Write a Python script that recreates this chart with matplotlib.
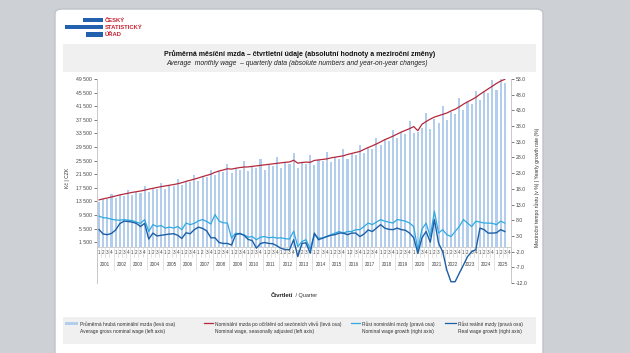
import numpy as np
import matplotlib.pyplot as plt
from matplotlib.patches import Rectangle, FancyBboxPatch
from matplotlib.lines import Line2D
from matplotlib.transforms import blended_transform_factory

plt.rcParams['font.family'] = ['Liberation Sans', 'DejaVu Sans']

# ---- data (2001 Q1 .. 2025 Q3) ----
years = list(range(2001, 2026))
quarters = ['1', '2', '3', '4']

wage = [13440, 14310, 14090, 15670,
        14510, 15450, 15210, 16920,
        15360, 16350, 16100, 17910,
        16330, 17380, 17120, 19040,
        17150, 18250, 17980, 19990,
        18280, 19450, 19160, 21300,
        19590, 20850, 20540, 22840,
        21120, 22480, 22140, 24630,
        21830, 23230, 22880, 25440,
        22310, 23740, 23390, 26010,
        22870, 24330, 23970, 26660,
        23440, 24940, 24570, 27600,
        23450, 24910, 24530, 27160,
        24220, 25640, 25250, 27960,
        25000, 26460, 26060, 28850,
        26100, 27630, 27210, 30120,
        27860, 29490, 29050, 32160,
        29970, 31720, 31250, 34600,
        32060, 33940, 33430, 37010,
        33660, 33940, 35100, 39640,
        34670, 37640, 36470, 41620,
        37300, 39900, 39300, 43900,
        40350, 42650, 42100, 46000,
        43340, 45850, 45300, 49230,
        46200, 49400, 48300]

wage_sa = [13950, 14250, 14500, 14800,
           15100, 15400, 15650, 15900,
           16150, 16350, 16550, 16800,
           17100, 17350, 17600, 17850,
           18050, 18250, 18450, 18700,
           19000, 19400, 19700, 20050,
           20400, 20800, 21150, 21500,
           22050, 22450, 22750, 23100,
           23000, 23250, 23450, 23600,
           23650, 23800, 23950, 24100,
           24250, 24400, 24550, 24700,
           24850, 25000, 25100, 25600,
           24750, 24950, 25050, 25000,
           25550, 25700, 25850, 26000,
           26300, 26500, 26700, 26900,
           27300, 27600, 27900, 28200,
           28800, 29350, 29850, 30400,
           31000, 31650, 32150, 32700,
           33300, 33900, 34400, 34900,
           35500, 34300, 36200, 37000,
           37700, 38300, 38700, 39100,
           39500, 40100, 40600, 41300,
           42100, 42800, 43400, 44100,
           45000, 45800, 46600, 47400,
           48200, 48900, 49400]

nominal_growth = [9.3, 8.8, 8.7, 8.3,
                  8.1, 8.0, 8.2, 8.0,
                  7.9, 7.4, 7.0, 8.2,
                  4.4, 6.6, 6.0, 6.3,
                  5.5, 5.8, 5.5, 6.0,
                  5.0, 7.1, 6.6, 7.0,
                  7.8, 8.2, 7.6, 6.8,
                  9.8, 7.7, 7.2, 7.1,
                  2.3, 3.9, 3.6, 3.4,
                  2.6, 2.8, 1.8, 2.6,
                  2.8, 2.4, 2.6, 2.3,
                  2.4, 2.1, 2.0, 4.5,
                  -0.4, 1.2, 1.8, -1.2,
                  3.4, 2.3, 2.3, 2.8,
                  3.4, 3.9, 4.4, 3.9,
                  4.4, 4.4, 5.0, 5.0,
                  6.0, 7.1, 6.6, 7.4,
                  8.2, 7.7, 7.4, 7.1,
                  8.2, 8.0, 7.7, 7.1,
                  6.0, -1.4, 5.2, 7.1,
                  2.8, 10.9, 3.9, 5.0,
                  3.4, 2.8, 4.4, 6.0,
                  8.2, 7.1, 6.0, 7.7,
                  7.4, 7.1, 7.1, 7.0,
                  6.6, 7.7, 7.1]

real_growth = [5.0, 3.6, 3.4, 3.8,
               4.9, 6.9, 7.7, 7.6,
               7.4, 7.0, 6.0, 7.0,
               2.0, 3.9, 3.0, 3.2,
               3.4, 3.6, 3.7, 3.2,
               2.2, 4.0, 3.7, 5.0,
               5.8, 5.4, 4.6, 2.4,
               2.4, 0.9, 0.6, 0.6,
               0.1, 3.4, 3.8, 3.2,
               1.9, 1.5, -0.9, 0.6,
               0.9, 0.6, 0.5, -0.2,
               -1.0, -1.3, -1.4, 1.8,
               -3.6, 0.6, 0.8, -2.5,
               3.9, 1.8, 2.3, 2.8,
               3.2, 3.4, 3.9, 3.9,
               3.4, 3.9, 3.9, 2.8,
               3.6, 4.9, 4.4, 5.5,
               6.6, 5.5, 5.1, 5.0,
               5.5, 5.0, 4.8, 3.9,
               2.4, -2.5, 2.4, 4.4,
               1.0, 8.2, 0.7, -2.0,
               -7.9, -11.6, -11.6, -8.9,
               -6.3, -3.6, -2.0, -1.4,
               5.5, 5.0, 3.9, 3.9,
               4.0, 5.0, 4.4]

left_ticks = list(range(1500, 49501, 4000))
right_ticks = list(range(-12, 54, 5))

# ---- figure / page decoration ----
W, H = 630, 353
fig = plt.figure(figsize=(W / 100, H / 100), dpi=100)
fig.patch.set_facecolor('#cdd0d5')

def fx(x):
    return x / W

def fy(y):
    return 1 - y / H

# white panel (kept behind the axes)
fig.add_artist(FancyBboxPatch((fx(55), fy(362)), fx(543 - 55), (362 - 9) / H,
                              boxstyle='round,pad=0,rounding_size=0.012',
                              transform=fig.transFigure, fc='white', ec='#bfc2c6', lw=1.0,
                              zorder=-10))

# logo
logo_blue = '#2161ad'
for x0, x1, y0, y1 in [(83, 103, 18, 22), (65, 103, 25, 29), (86, 103, 32, 36.5)]:
    fig.add_artist(Rectangle((fx(x0), fy(y1)), fx(x1 - x0), (y1 - y0) / H,
                             transform=fig.transFigure, fc=logo_blue, ec='none', zorder=-5))
for txt, yy in [('ČESKÝ', 20.3), ('STATISTICKÝ', 27.3), ('ÚŘAD', 34.5)]:
    fig.text(fx(105), fy(yy), txt, color='#c8202f', fontsize=4.2, fontweight='bold',
             ha='left', va='center')

# title box
fig.add_artist(Rectangle((fx(63), fy(72)), fx(536 - 63), (72 - 44) / H,
                         transform=fig.transFigure, fc='#f0f0f0', ec='none', zorder=-5))
fig.text(fx(300), fy(54.5),
         'Průměrná měsíční mzda – čtvrtletní údaje (absolutní hodnoty a meziroční změny)',
         fontsize=5.0, fontweight='bold', ha='center', va='center', color='#111111')
fig.text(fx(297), fy(63.5),
         'Average  monthly wage  – quarterly data (absolute numbers and year-on-year changes)',
         fontsize=4.9, style='italic', ha='center', va='center', color='#222222')

# ---- main chart ----
ax = fig.add_axes([fx(97), fy(283), fx(511 - 97), (283 - 79) / H])
ax.patch.set_alpha(0)
idx = np.arange(len(wage))

bar_col = '#b3cdec'
ax.bar(idx, wage, width=0.5, color=bar_col, zorder=1)
ax.plot(idx, wage_sa, color='#b5283b', lw=0.9, zorder=3)
ax.axhline(0, color='#c8c8c8', lw=0.6, zorder=2)

ax.set_xlim(-0.5, 4 * len(years) - 0.5)
ax.set_ylim(-10500, 49500)
ax.set_yticks(left_ticks)
ax.set_yticklabels([f'{v:,}'.replace(',', ' ') for v in left_ticks])
ax.set_xticks([])

ax2 = ax.twinx()
ax2.plot(idx, nominal_growth, color='#2fa9e2', lw=0.9, zorder=4)
ax2.plot(idx, real_growth, color='#1b5fa7', lw=1.0, zorder=5)
ax2.set_ylim(-12, 53)
ax2.set_yticks(right_ticks)
ax2.set_yticklabels([f'{v:.1f}' for v in right_ticks])

for a in (ax, ax2):
    for s in ('top', 'bottom'):
        a.spines[s].set_visible(False)
    a.tick_params(axis='y', labelsize=3.7, colors='#454545', length=2, width=0.5, pad=1.5)
ax.spines['left'].set_color('#c0c0c0')
ax.spines['right'].set_visible(False)
ax2.spines['left'].set_visible(False)
ax2.spines['right'].set_color('#c0c0c0')
ax.spines['left'].set_linewidth(0.6)
ax2.spines['right'].set_linewidth(0.6)

# multi-level category axis
tr = blended_transform_factory(ax.transData, fig.transFigure)
for i in range(4 * len(years)):
    ax.text(i, fy(252.5), quarters[i % 4], transform=tr, ha='center', va='center',
            fontsize=3.3, color='#454545', clip_on=False)
    if i % 4:
        ax.add_line(Line2D([i - 0.5, i - 0.5], [fy(248), fy(256.5)], transform=tr,
                           color='#cccccc', lw=0.4, clip_on=False))
for k, yr in enumerate(years):
    ax.text(4 * k + 1.5, fy(264.5), str(yr), transform=tr, ha='center', va='center',
            fontsize=3.3, color='#454545', clip_on=False)
for k in range(len(years) + 1):
    ax.add_line(Line2D([4 * k - 0.5, 4 * k - 0.5], [fy(248), fy(270)], transform=tr,
                       color='#cccccc', lw=0.4, clip_on=False))

# axis titles
fig.text(fx(67), fy(178), 'Kč | CZK', rotation=90, fontsize=3.7, ha='center', va='center',
         color='#333333')
fig.text(fx(537), fy(187), 'Meziroční tempo růstu (v %) | Yearly growth rate (%)',
         rotation=90, fontsize=3.7, ha='center', va='center', color='#333333')
fig.text(fx(293), fy(295.5), 'Čtvrtletí', fontsize=4.2, fontweight='bold', ha='right',
         va='center', color='#222222')
fig.text(fx(293.5), fy(295.5), ' / Quarter', fontsize=4.0, ha='left', va='center',
         color='#333333')

# ---- legend box ----
fig.add_artist(Rectangle((fx(63), fy(344)), fx(536 - 63), (344 - 317) / H,
                         transform=fig.transFigure, fc='#f0f0f0', ec='none', zorder=-5))
fig.add_artist(Rectangle((fx(65), fy(324.5)), fx(13), 3 / H, transform=fig.transFigure,
                         fc=bar_col, ec='none'))
legend_items = [
    (None, 65, 80, 'Průměrná hrubá nominální mzda (levá osa)',
     'Average gross nominal wage (left axis)'),
    ('#b5283b', 204, 215, 'Nominální mzda po očištění od sezónních vlivů (levá osa)',
     'Nominal wage, seasonally adjusted (left axis)'),
    ('#2fa9e2', 351, 362, 'Růst nominální mzdy (pravá osa)',
     'Nominal wage growth (right axis)'),
    ('#1b5fa7', 445, 458, 'Růst reálné mzdy (pravá osa)',
     'Real wage growth (right axis)'),
]
for col, x0, xt, l1, l2 in legend_items:
    if col is not None:
        fig.add_artist(Line2D([fx(x0), fx(xt - 2)], [fy(323), fy(323)],
                              transform=fig.transFigure, color=col, lw=0.9))
    fig.text(fx(xt), fy(324), l1, fontsize=3.5, ha='left', va='center', color='#333333')
    fig.text(fx(xt), fy(331.5), l2, fontsize=3.5, ha='left', va='center', color='#333333')

fig.savefig('out.png', dpi=100, facecolor=fig.get_facecolor())
